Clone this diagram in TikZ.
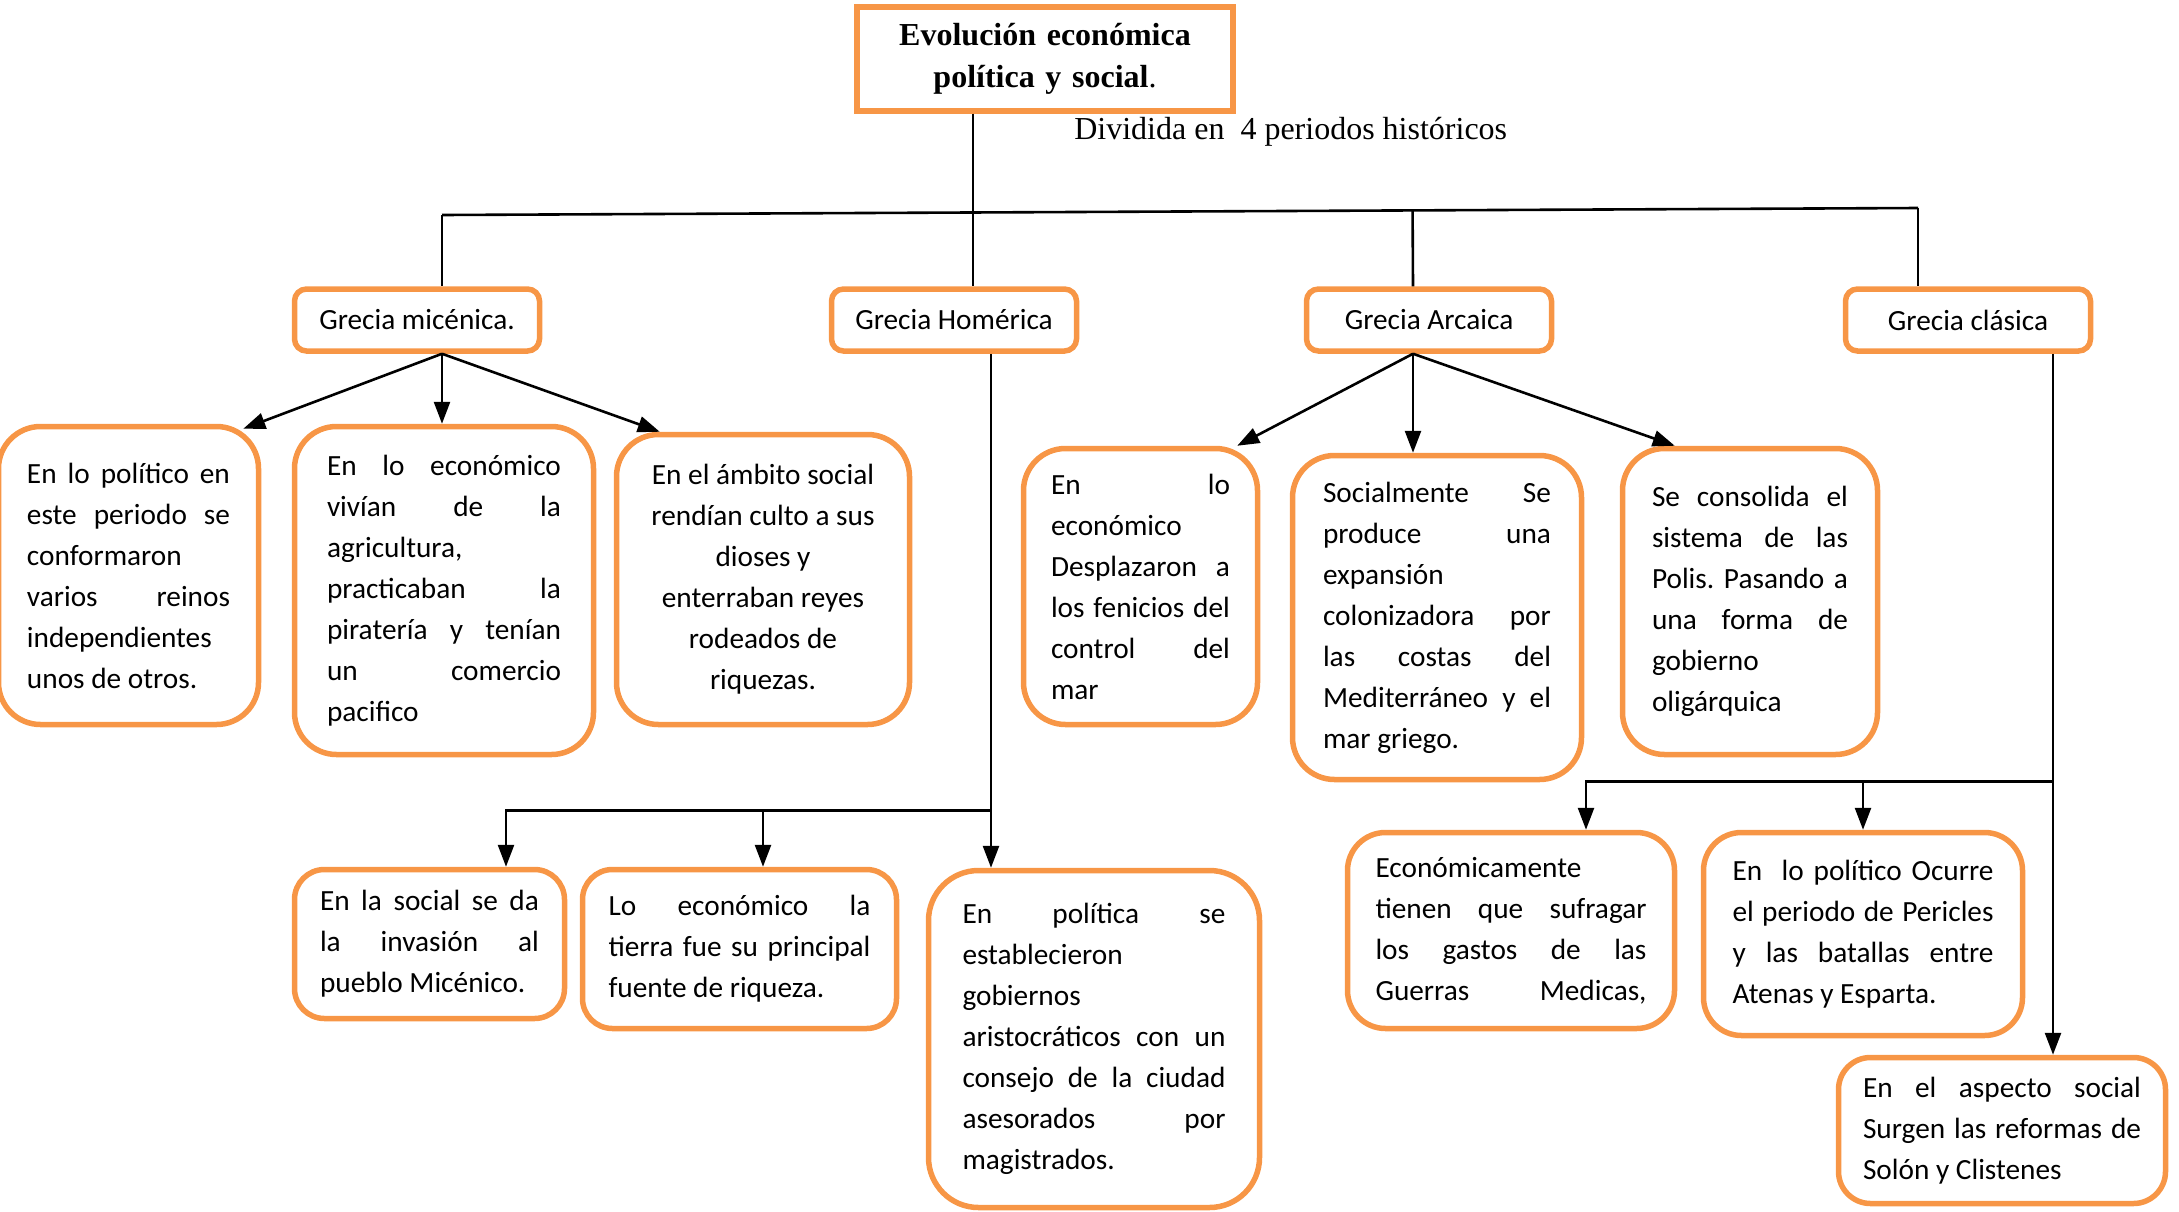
\documentclass[tikz,border=0pt]{standalone}
\usepackage{fontspec}
\setmainfont{Carlito}
\newfontfamily\timesfont{Liberation Serif}
\usepackage{tikz}
\usetikzlibrary{arrows.meta, calc}
\definecolor{boxorange}{HTML}{F79646}
\newcommand{\jline}[1]{\makebox[\hsize][s]{\spaceskip=.226em plus 1fil\relax#1}}

\begin{document}
\begin{tikzpicture}[
  x=1pt, y=-1pt,
  line width=2.6pt,
  >={Triangle[length=22pt, width=16pt]},
  head/.style={draw=boxorange, line width=6pt, minimum width=376pt,
               minimum height=104pt, text width=340pt, align=center,
               font=\timesfont\bfseries\fontsize{32}{42}\selectfont},
  period/.style={draw=boxorange, line width=5.5pt, rounded corners=12pt,
                 minimum width=245pt, minimum height=62pt,
                 font=\fontsize{29.3}{41}\selectfont},
  info/.style={draw=boxorange, line width=5.5pt, rounded corners=42pt,
               inner sep=0pt, font=\fontsize{29.3}{41}\selectfont,
               execute at begin node={\frenchspacing\spaceskip=.226em plus .2em minus .05em\relax}}
]
  \useasboundingbox (0,0) rectangle (2179,1211);

  % Nodes
  \node[head] (title) at (1045,58.5)
    {Evolución económica\\política y social\textmd{.}};

  \node[period] (mic) at (417,320) {Grecia micénica.};
  \node[period] (hom) at (954,320) {Grecia Homérica};
  \node[period] (arc) at (1429,320) {Grecia Arcaica};
  \node[period] (cla) at (1968,320) {Grecia clásica};

  \node[info, minimum width=260pt, minimum height=298pt, text width=203pt]
    (polA) at (128.5,575.5)
    {\jline{En lo político en}\\ \jline{este periodo se}\\ conformaron\\
     \jline{varios reinos}\\ independientes\\ unos de otros.};
  \node[info, minimum width=299pt, minimum height=328pt, text width=234pt]
    (ecoB) at (444,590.5)
    {\jline{En lo económico}\\ \jline{vivían de la}\\ agricultura,\\
     \jline{practicaban la}\\ \jline{piratería y tenían}\\ \jline{un comercio}\\ pacifico};
  \node[info, minimum width=293pt, minimum height=290pt, text width=230pt]
    (socC) at (763,579.5)
    {\centering En el ámbito social\\ rendían culto a sus\\ dioses y\\ enterraban reyes\\
     rodeados de\\ riquezas.\par};

  \node[info, minimum width=234pt, minimum height=276pt, text width=179pt]
    (ecoD) at (1140.5,586.5)
    {\jline{En lo}\\ económico\\ \jline{Desplazaron a}\\ \jline{los fenicios del}\\
     \jline{control del}\\ mar};
  \node[info, minimum width=289pt, minimum height=324pt, text width=228pt]
    (socE) at (1437,617.5)
    {\jline{Socialmente Se}\\ \jline{produce una}\\ expansión\\
     \jline{colonizadora por}\\ \jline{las costas del}\\ \jline{Mediterráneo y el}\\ mar griego.};
  \node[info, minimum width=255pt, minimum height=306pt, text width=196pt]
    (polF) at (1750,601.5)
    {\jline{Se consolida el}\\ \jline{sistema de las}\\ \jline{Polis. Pasando a}\\
     \jline{una forma de}\\ gobierno\\ oligárquica};

  \node[info, rounded corners=30pt, minimum width=270pt, minimum height=149pt,
        text width=219pt] (socG) at (429.5,944)
    {\jline{En la social se da}\\ \jline{la invasión al}\\ pueblo Micénico.};
  \node[info, rounded corners=30pt, minimum width=314pt, minimum height=159pt,
        text width=262pt] (ecoH) at (739.5,949)
    {\jline{Lo económico la}\\ \jline{tierra fue su principal}\\ fuente de riqueza.};
  \node[info, rounded corners=50pt, minimum width=331pt, minimum height=337pt,
        text width=263pt] (polI) at (1094,1039)
    {\jline{En política se}\\ establecieron\\ gobiernos\\
     \jline{aristocráticos con un}\\ \jline{consejo de la ciudad}\\
     \jline{asesorados por}\\ magistrados.};

  \node[info, rounded corners=38pt, minimum width=327pt, minimum height=196pt,
        text width=271pt] (ecoJ) at (1511,930.5)
    {Económicamente\\ \jline{tienen que sufragar}\\ \jline{los gastos de las}\\
     \jline{Guerras Medicas,}};
  \node[info, rounded corners=38pt, minimum width=319pt, minimum height=203pt,
        text width=261pt] (polK) at (1863,934)
    {\jline{En\ \ lo político Ocurre}\\ \jline{el periodo de Pericles}\\
     \jline{y las batallas entre}\\ Atenas y Esparta.};
  \node[info, rounded corners=32pt, minimum width=327pt, minimum height=146pt,
        text width=278pt] (socL) at (2002,1130.5)
    {\jline{En el aspecto social}\\ \jline{Surgen las reformas de}\\ Solón y Clistenes};

  % Edges
  \coordinate (busL) at (442,215);
  \coordinate (busR) at (1918,208);
  \draw (busL) -- (busR);
  \draw (busL) -- (busL |- mic.north);
  \draw (busR) -- (busR |- cla.north);
  \coordinate (homIn) at ([xshift=19pt]hom.north);
  \draw (homIn |- title.south) -- (homIn);
  \coordinate (arcIn) at ([xshift=-16pt]arc.north);
  \draw ($(busL)!(arcIn)!(busR)$) -- (arcIn);

  \coordinate (micOut) at ([xshift=25pt]mic.south);
  \draw[->] (micOut) -- ($(polA.north east)+(-18,5)$);
  \draw[->] (micOut) -- (micOut |- ecoB.north);
  \draw[->] (micOut) -- ($(socC.north west)+(46,0)$);

  \coordinate (arcOut) at ([xshift=-16pt]arc.south);
  \draw[->] (arcOut) -- ($(ecoD.north east)+(-23,0)$);
  \draw[->] (arcOut) -- (arcOut |- socE.north);
  \draw[->] (arcOut) -- ($(polF.north west)+(55,0)$);

  \coordinate (homOut) at ([xshift=37pt]hom.south);
  \draw[->] (homOut) -- (homOut |- polI.north);
  \path (homOut) ++(0,457) coordinate (homJoint);
  \draw[->] (homJoint) -| ([xshift=76.5pt]socG.north);
  \coordinate (ecoHIn) at ([xshift=23.5pt]ecoH.north);
  \draw[->] (ecoHIn |- homJoint) -- (ecoHIn);

  \coordinate (claOut) at ([xshift=85pt]cla.south);
  \draw[->] (claOut) -- (claOut |- socL.north);
  \path (claOut) ++(0,428) coordinate (claJoint);
  \draw[->] (claJoint) -| ([xshift=75pt]ecoJ.north);
  \draw[->] (polK.north |- claJoint) -- (polK.north);

  % Labels
  \node[anchor=west, inner sep=0pt, font=\timesfont\fontsize{32}{42}\selectfont]
    (division) at (1073,132) {Dividida en\ \ 4 periodos históricos};
\end{tikzpicture}
\end{document}
